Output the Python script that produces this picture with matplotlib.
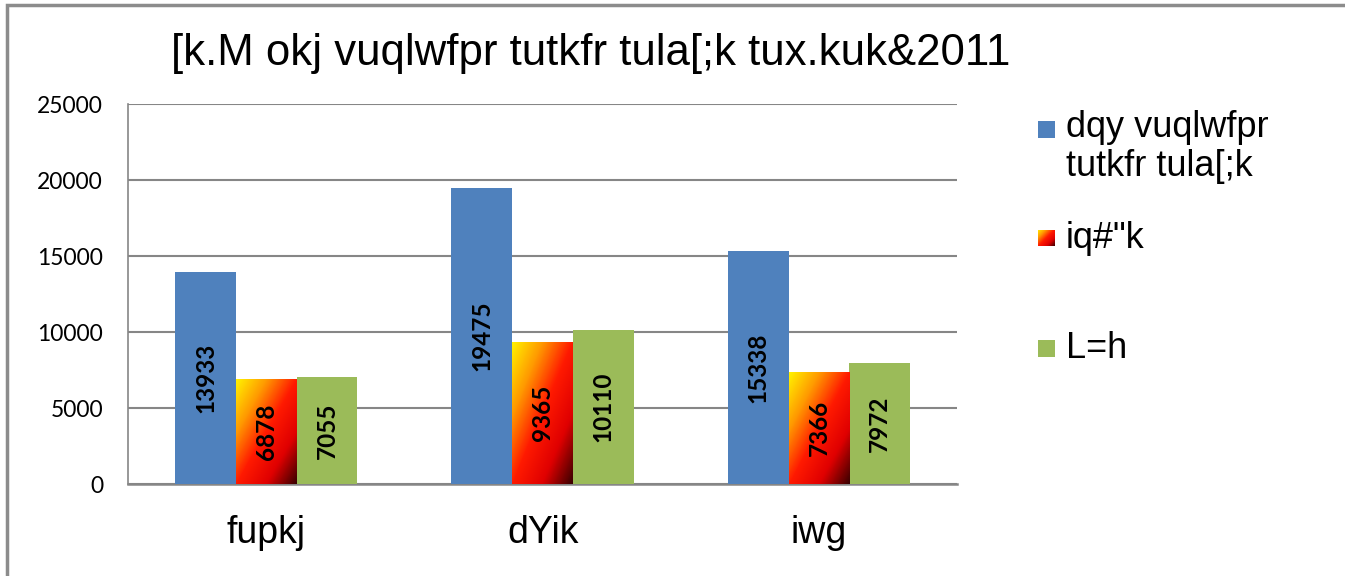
import matplotlib
matplotlib.use("Agg")
import matplotlib.pyplot as plt
import numpy as np
from matplotlib.colors import LinearSegmentedColormap
from matplotlib.patches import Rectangle

# data
blocks = ["fupkj", "dYik", "iwg"]
total = [13933, 19475, 15338]
male = [6878, 9365, 7366]
female = [7055, 10110, 7972]
series_names = ["dqy vuqlwfpr\ntutkfr tula[;k", "iq#\"k", "L=h"]
title = "[k.M okj vuqlwfpr tutkfr tula[;k tux.kuk&2011"
yticks = [0, 5000, 10000, 15000, 20000, 25000]

txt_font = "Liberation Sans"
num_font = "Lato"

blue = "#4F81BD"
green = "#9BBB59"
grid_c = "#868686"
fire = LinearSegmentedColormap.from_list(
    "fire", ["#FFF200", "#FF9A00", "#FF1A00", "#E00000", "#3A0000"])

fig = plt.figure(figsize=(13.45, 5.76), dpi=100)
ax = fig.add_axes([0.0952, 0.1597, 0.6164, 0.6597])

x = np.arange(len(blocks))
w = 0.22
b1 = ax.bar(x - w, total, w, color=blue, zorder=3)
b2 = ax.bar(x, male, w, color="none", zorder=3)
b3 = ax.bar(x + w, female, w, color=green, zorder=3)

# diagonal fire gradient inside the middle bars
u, v = np.meshgrid(np.linspace(0, 1, 60), np.linspace(0, 1, 120))
grad = (u + v) / 2
for p in b2:
    x0 = p.get_x()
    h = p.get_height()
    im = ax.imshow(grad, cmap=fire, extent=[x0, x0 + p.get_width(), 0, h],
                   origin="upper", aspect="auto", zorder=3, interpolation="bilinear")
    im.set_clip_path(p)

for bars in (b1, b2, b3):
    for p in bars:
        h = p.get_height()
        ax.text(p.get_x() + p.get_width() / 2, h / 2, f"{int(h)}", rotation=90,
                ha="center", va="center", fontsize=17.5, fontweight="bold",
                family=num_font, zorder=4)

ax.set_xlim(-0.5, 2.5)
ax.set_ylim(0, 25000)
ax.set_yticks(yticks)
ax.set_yticklabels([str(t) for t in yticks], family=num_font, fontsize=16.5)
ax.set_xticks(x)
ax.set_xticklabels(blocks, family=txt_font, fontsize=27)
ax.tick_params(axis="y", length=0, pad=18)
ax.tick_params(axis="x", length=0, pad=22)
ax.grid(axis="y", color=grid_c, linewidth=1.5, zorder=0)
for s in ("top", "right"):
    ax.spines[s].set_visible(False)
ax.spines["left"].set_color(grid_c)
ax.spines["left"].set_linewidth(1.2)
ax.spines["bottom"].set_color(grid_c)
ax.spines["bottom"].set_linewidth(1.8)

fig.text(0.4394, 0.907, title, ha="center", va="center", fontsize=31.5, family=txt_font)

# legend drawn by hand
sq = 17 / 1345
sqh = 17 / 576
lx = 1038 / 1345
tx = 1066 / 1345
ly = [1 - 129 / 576, 1 - 238 / 576, 1 - 348 / 576]
fig.patches.append(Rectangle((lx, ly[0] - sqh / 2), sq, sqh, transform=fig.transFigure,
                             facecolor=blue, edgecolor="none"))
fig.patches.append(Rectangle((lx, ly[2] - sqh / 2), sq, sqh, transform=fig.transFigure,
                             facecolor=green, edgecolor="none"))
lax = fig.add_axes([lx, ly[1] - sqh / 2, sq, sqh])
lax.imshow(grad, cmap=fire, aspect="auto", origin="upper", interpolation="bilinear")
lax.axis("off")
fig.text(tx, ly[0] + 0.033, series_names[0], ha="left", va="top", fontsize=26,
         family=txt_font, linespacing=1.15)
fig.text(tx, ly[1], series_names[1], ha="left", va="center", fontsize=26, family=txt_font)
fig.text(tx, ly[2], series_names[2], ha="left", va="center", fontsize=26, family=txt_font)

# outer frame
fig.patches.append(Rectangle((7 / 1345, -0.05), 1.1, 1 - 5 / 576 + 0.05,
                             transform=fig.transFigure, facecolor="none",
                             edgecolor="#8C8C8C", linewidth=2.5))

fig.savefig("out.png", dpi=100)
